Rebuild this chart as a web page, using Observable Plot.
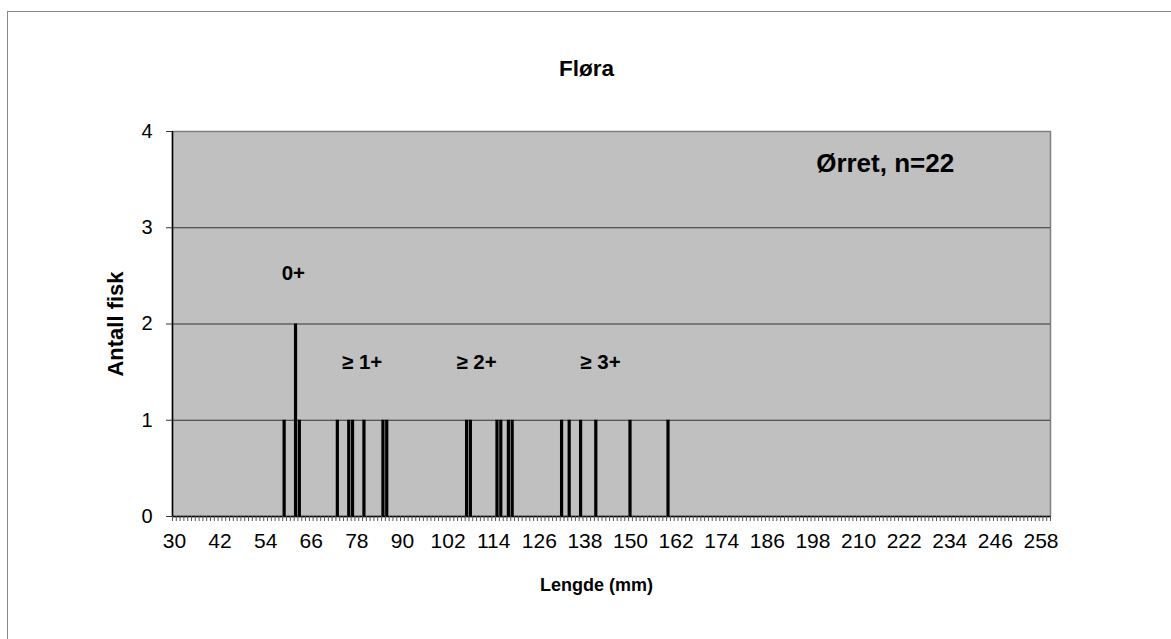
<!DOCTYPE html>
<html>
<head>
<meta charset="utf-8">
<script src="https://cdn.jsdelivr.net/npm/d3@7"></script>
<script src="https://cdn.jsdelivr.net/npm/@observablehq/plot@0.6"></script>
<style>
  html, body { margin: 0; padding: 0; background: #fff; }
  #chart { position: relative; width: 1171px; height: 639px; overflow: hidden; }
  #chart svg { font-family: Arial, "Liberation Sans", sans-serif; }
  #border { position: absolute; left: 7px; top: 11px; width: 1200px; height: 700px; border-left: 1.5px solid #888; border-top: 1.5px solid #888; pointer-events: none; }
</style>
</head>
<body>
<div id="chart"><div id="border"></div></div>
<script>
// Data: length (mm) and number of fish
const lengths = [59, 62, 63, 73, 76, 77, 80, 85, 86, 107, 108, 115, 116, 118, 119, 132, 134, 137, 141, 150, 160];
const counts  = [1, 2, 1, 1, 1, 1, 1, 1, 1, 1, 1, 1, 1, 1, 1, 1, 1, 1, 1, 1, 1];
const firstCat = 30;
const lastCat = 260;
const xTickLabels = d3.range(30, 259, 12);
const yTicks = [0, 1, 2, 3, 4];
const ageLabels = ["0+", "≥ 1+", "≥ 2+", "≥ 3+"];
const ageLabelX = [61.3, 79.4, 109.5, 142.1];
const ageLabelY = [2.53, 1.6, 1.6, 1.6];
const title = "Fløra";
const xTitle = "Lengde (mm)";
const yTitle = "Antall fisk";
const note = "Ørret, n=22";

const data = lengths.map((l, i) => ({length: l, count: counts[i]}));
const boundaries = d3.range(firstCat - 0.5, lastCat + 1, 1);

const chart = Plot.plot({
  width: 1171,
  height: 639,
  marginLeft: 172,
  marginRight: 121,
  marginTop: 131,
  marginBottom: 123,
  style: {fontFamily: "Arial, 'Liberation Sans', sans-serif", fontSize: "20px", color: "#000", background: "transparent"},
  x: {domain: [firstCat - 0.5, lastCat + 0.5]},
  y: {domain: [0, 4]},
  marks: [
    Plot.frame({fill: "#c0c0c0", stroke: "#808080", strokeWidth: 1.5}),
    Plot.ruleY([1, 2, 3], {stroke: "#333", strokeWidth: 1}),
    Plot.rectY(data, {x1: d => d.length - 0.42, x2: d => d.length + 0.42, y1: 0, y2: "count", fill: "#000"}),
    Plot.ruleX([firstCat - 0.5], {stroke: "#000", strokeWidth: 1.5}),
    Plot.ruleY([0], {stroke: "#000", strokeWidth: 1.5}),
    Plot.axisX(boundaries, {tickSize: 5, tickFormat: () => "", stroke: "#555", strokeWidth: 1}),
    Plot.axisX(xTickLabels, {tickSize: 0, tickPadding: 17, fontSize: 21, label: null}),
    Plot.axisY(yTicks, {tickSize: 6, tickPadding: 14, fontSize: 20, label: null, stroke: "#333", tickFormat: d => String(d)}),
    Plot.text(ageLabels, {x: (d, i) => ageLabelX[i], y: (d, i) => ageLabelY[i], text: d => d, fontWeight: "bold", fontSize: 20.5}),
    Plot.text([note], {x: 217, y: 3.67, text: d => d, fontWeight: "bold", fontSize: 26}),
    Plot.text([title], {frameAnchor: "top", dy: -71, dx: -25, text: d => d, fontWeight: "bold", fontSize: 22.5}),
    Plot.text([xTitle], {frameAnchor: "bottom", dy: 74, dx: -15, text: d => d, fontWeight: "bold", fontSize: 18}),
    Plot.text([yTitle], {frameAnchor: "left", dx: -57, rotate: -90, textAnchor: "middle", text: d => d, fontWeight: "bold", fontSize: 22})
  ]
});
document.getElementById("chart").appendChild(chart);
</script>
</body>
</html>
